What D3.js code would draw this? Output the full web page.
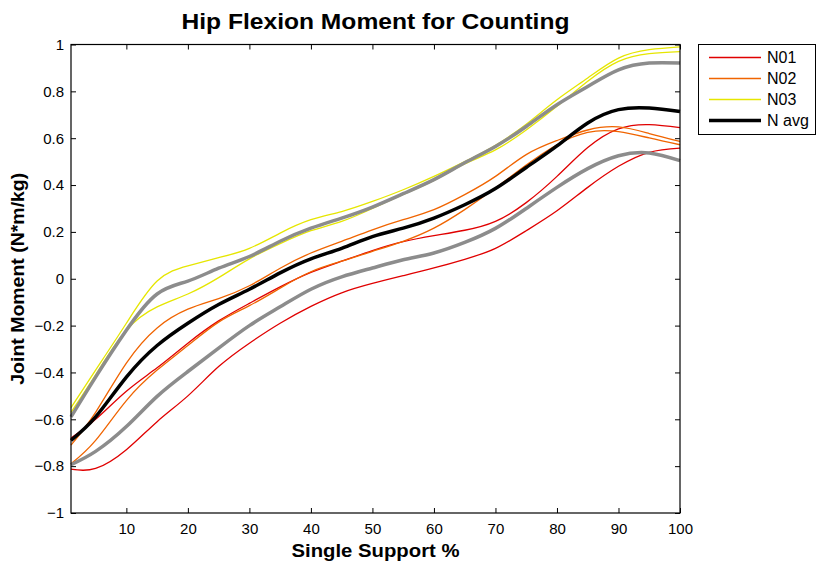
<!DOCTYPE html>
<html>
<head>
<meta charset="utf-8">
<script src="https://cdn.jsdelivr.net/npm/d3@7/dist/d3.min.js"></script>
<style>
  html, body { margin: 0; padding: 0; background: #fff; }
  svg text { font-family: "Liberation Sans", Arial, Helvetica, sans-serif; }
</style>
</head>
<body>
<svg id="chart" width="817" height="563"></svg>
<script>
// ---- data ----
const title = "Hip Flexion Moment for Counting";
const xLabel = "Single Support %";
const yLabel = "Joint Moment (N*m/kg)";
const xs = [1, 5, 10, 15, 20, 25, 30, 35, 40, 45, 50, 55, 60, 65, 70, 75, 80, 85, 90, 95, 100];
const n01a = [-0.68, -0.60, -0.48, -0.38, -0.275, -0.18, -0.105, -0.035, 0.027, 0.075, 0.12, 0.158, 0.184, 0.207, 0.245, 0.325, 0.437, 0.56, 0.64, 0.658, 0.645];
const n01b = [-0.813, -0.81, -0.73, -0.61, -0.5, -0.375, -0.275, -0.19, -0.118, -0.06, -0.02, 0.013, 0.046, 0.083, 0.13, 0.205, 0.29, 0.39, 0.48, 0.54, 0.558];
const n02a = [-0.71, -0.57, -0.36, -0.21, -0.13, -0.085, -0.03, 0.045, 0.11, 0.16, 0.209, 0.252, 0.295, 0.359, 0.437, 0.53, 0.59, 0.635, 0.648, 0.62, 0.586];
const n02b = [-0.79, -0.69, -0.52, -0.39, -0.285, -0.185, -0.115, -0.04, 0.03, 0.075, 0.117, 0.16, 0.216, 0.295, 0.387, 0.485, 0.572, 0.625, 0.628, 0.601, 0.572];
const n03a = [-0.55, -0.39, -0.19, -0.01, 0.055, 0.09, 0.13, 0.195, 0.252, 0.287, 0.33, 0.38, 0.437, 0.5, 0.57, 0.66, 0.764, 0.857, 0.942, 0.978, 0.99];
const n03b = [-0.57, -0.41, -0.22, -0.12, -0.065, 0.005, 0.085, 0.15, 0.205, 0.245, 0.30, 0.36, 0.42, 0.49, 0.55, 0.635, 0.736, 0.843, 0.928, 0.961, 0.97];
const nAvg = [-0.69, -0.59, -0.42, -0.285, -0.19, -0.11, -0.045, 0.025, 0.085, 0.13, 0.18, 0.216, 0.259, 0.316, 0.385, 0.475, 0.567, 0.665, 0.722, 0.729, 0.714];
const sdUp = [-0.59, -0.42, -0.22, -0.065, -0.01, 0.045, 0.095, 0.16, 0.216, 0.259, 0.306, 0.363, 0.423, 0.495, 0.565, 0.65, 0.743, 0.821, 0.892, 0.921, 0.921];
const sdLo = [-0.794, -0.737, -0.631, -0.502, -0.396, -0.296, -0.2, -0.12, -0.045, 0.008, 0.046, 0.081, 0.11, 0.155, 0.215, 0.3, 0.39, 0.47, 0.525, 0.537, 0.504];
const xTicks = [10, 20, 30, 40, 50, 60, 70, 80, 90, 100];
const yTicks = [-1, -0.8, -0.6, -0.4, -0.2, 0, 0.2, 0.4, 0.6, 0.8, 1];
const legendNames = ["N01", "N02", "N03", "N avg"];
const colors = { red: "#e00000", orange: "#f06400", yellow: "#e6e600", grey: "#8c8c8c", black: "#000000" };

// ---- layout ----
const svg = d3.select("#chart");
const L = 71, R = 680, T = 44.5, B = 513;
const x = d3.scaleLinear().domain([1, 100]).range([L, R]);
const y = d3.scaleLinear().domain([-1, 1]).range([B, T]);

const fmt = d => (d === 0 ? "0" : d3.format("")(+d.toFixed(1)));

// axes
const gB = svg.append("g").attr("transform", `translate(0,${B})`)
  .call(d3.axisBottom(x).tickValues(xTicks).tickSize(-5).tickPadding(10).tickFormat(d3.format("d")));
const gT = svg.append("g").attr("transform", `translate(0,${T})`)
  .call(d3.axisTop(x).tickValues(xTicks).tickSize(-5).tickFormat(""));
const gL = svg.append("g").attr("transform", `translate(${L},0)`)
  .call(d3.axisLeft(y).tickValues(yTicks).tickSize(-5).tickPadding(7).tickFormat(fmt));
const gR = svg.append("g").attr("transform", `translate(${R},0)`)
  .call(d3.axisRight(y).tickValues(yTicks).tickSize(-5).tickFormat(""));
[gB, gT, gL, gR].forEach(g => {
  g.select(".domain").remove();
  g.selectAll(".tick line").attr("stroke", "#000").attr("stroke-width", 1);
  g.selectAll(".tick text").attr("font-size", 15).attr("fill", "#000")
    .style("font-family", "'Liberation Sans', Arial, sans-serif");
});

// lines
const line = d3.line().x((d, i) => x(xs[i])).y(d => y(d)).curve(d3.curveNatural);
const plot = svg.append("g");
const series = [
  { v: n01a, c: colors.red, w: 1.3 },
  { v: n01b, c: colors.red, w: 1.3 },
  { v: n02a, c: colors.orange, w: 1.3 },
  { v: n02b, c: colors.orange, w: 1.3 },
  { v: n03a, c: colors.yellow, w: 1.3 },
  { v: n03b, c: colors.yellow, w: 1.3 },
  { v: sdUp, c: colors.grey, w: 3.5 },
  { v: sdLo, c: colors.grey, w: 3.5 },
  { v: nAvg, c: colors.black, w: 3.5 }
];
plot.selectAll("path").data(series).join("path")
  .attr("d", d => line(d.v))
  .attr("fill", "none")
  .attr("stroke", d => d.c)
  .attr("stroke-width", d => d.w);

// box
svg.append("rect").attr("x", L).attr("y", T).attr("width", R - L).attr("height", B - T)
  .attr("fill", "none").attr("stroke", "#000").attr("stroke-width", 1.2);

// title & labels
svg.append("text").attr("x", (L + R) / 2).attr("y", 29).attr("text-anchor", "middle")
  .attr("font-size", 22).attr("font-weight", "bold").attr("textLength", 388).attr("lengthAdjust", "spacingAndGlyphs").text(title);
svg.append("text").attr("x", (L + R) / 2).attr("y", 557).attr("text-anchor", "middle")
  .attr("font-size", 18).attr("font-weight", "bold").attr("textLength", 168).attr("lengthAdjust", "spacingAndGlyphs").text(xLabel);
svg.append("text").attr("transform", `translate(24,${(T + B) / 2}) rotate(-90)`).attr("text-anchor", "middle")
  .attr("font-size", 18).attr("font-weight", "bold").attr("textLength", 212).attr("lengthAdjust", "spacingAndGlyphs").text(yLabel);

// legend
const lg = svg.append("g");
lg.append("rect").attr("x", 698.5).attr("y", 44.5).attr("width", 117).attr("height", 90)
  .attr("fill", "#fff").attr("stroke", "#000").attr("stroke-width", 1);
const legColors = [colors.red, colors.orange, colors.yellow, colors.black];
const legW = [1.3, 1.3, 1.3, 3.5];
legendNames.forEach((nm, i) => {
  const yy = 57.5 + i * 21;
  lg.append("line").attr("x1", 709).attr("x2", 761).attr("y1", yy).attr("y2", yy)
    .attr("stroke", legColors[i]).attr("stroke-width", legW[i]);
  lg.append("text").attr("x", 767).attr("y", yy + 5.5).attr("font-size", 16).attr("fill", "#000").text(nm);
});
</script>
</body>
</html>
